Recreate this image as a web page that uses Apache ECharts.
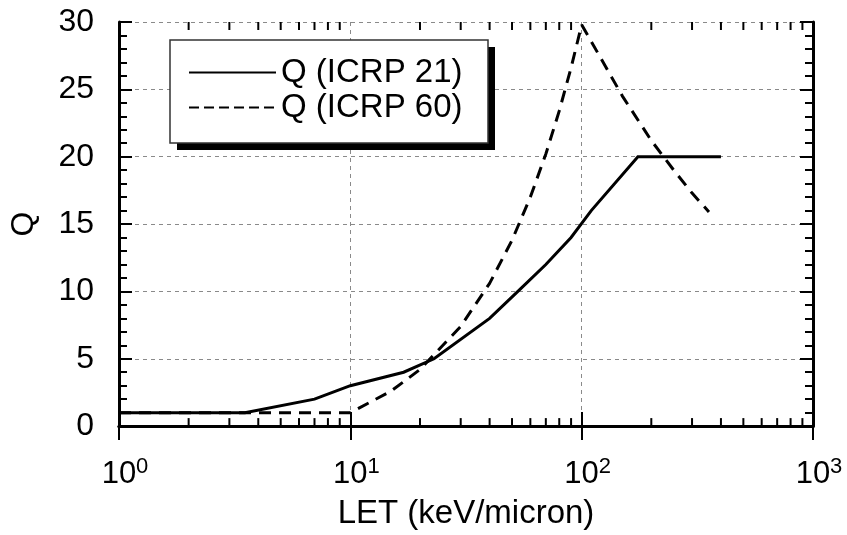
<!DOCTYPE html>
<html>
<head>
<meta charset="utf-8">
<script src="https://cdn.jsdelivr.net/npm/echarts@6/dist/echarts.min.js"></script>
<style>
  html, body { margin: 0; padding: 0; background: #fff; }
  #chart { width: 847px; height: 535px; }
</style>
</head>
<body>
<div id="chart"></div>
<script>
// Quality factor Q versus linear energy transfer
const letIcrp21 = [1, 3.5, 7, 10, 17, 23, 40, 53, 70, 90, 110, 175, 400];
const qIcrp21   = [1, 1,   2, 3,  4,  5,  8,  10, 12, 14, 16,  20,  20];

const letIcrp60 = [1, 10, 15, 20, 30, 40, 50, 60, 70, 80, 90, 100, 150, 200, 250, 300, 355];
const qIcrp60   = [1, 1,  2.6, 4.2, 7.4, 10.6, 13.8, 17, 20.2, 23.4, 26.6, 29.8, 24.5, 21.2, 19, 17.3, 15.9];

const seriesNames = ['Q (ICRP 21)', 'Q (ICRP 60)'];
const xDecades = [1, 10, 100, 1000];
const xExponents = ['0', '1', '2', '3'];
const xMinorTicks = [2, 3, 4, 5, 6, 7, 8, 9, 20, 30, 40, 50, 60, 70, 80, 90, 200, 300, 400, 500, 600, 700, 800, 900];
const yMin = 0, yMax = 30, yStep = 5;

const FONT = '"Liberation Sans", Arial, Helvetica, sans-serif';

const pairs = (xs, ys) => xs.map((x, i) => [x, ys[i]]);

const axisLine = { show: true, lineStyle: { color: '#000', width: 3 } };
const gridLine = { show: true, lineStyle: { color: '#8a8a8a', width: 1, type: [4, 4] } };

const chart = echarts.init(document.getElementById('chart'), null, { renderer: 'canvas' });

const xAxisBase = {
  type: 'log', logBase: 10, min: xDecades[0], max: xDecades[xDecades.length - 1],
  axisLine: axisLine,
  axisTick: { show: true, inside: true, length: 14, lineStyle: { color: '#000', width: 2 } },
  minorTick: { show: false }
};
const yAxisBase = {
  type: 'value', min: yMin, max: yMax, interval: yStep,
  axisLine: axisLine,
  axisTick: { show: true, inside: true, length: 13, lineStyle: { color: '#000', width: 2 } },
  minorTick: { show: true, splitNumber: 5, length: 8, lineStyle: { color: '#000', width: 2 } }
};

// legend frame with a solid drop shadow
const box = { x: 170, y: 40, w: 318, h: 103, shadow: 7 };

chart.setOption({
  animation: false,
  backgroundColor: '#fff',
  grid: { left: 117, right: 34, top: 22, bottom: 106, containLabel: false },
  graphic: [
    {
      type: 'rect', z: 10, silent: true,
      shape: { x: box.x + box.shadow, y: box.y + box.shadow, width: box.w, height: box.h },
      style: { fill: '#000' }
    },
    {
      type: 'rect', z: 11, silent: true,
      shape: { x: box.x, y: box.y, width: box.w, height: box.h },
      style: { fill: '#fff', stroke: '#333', lineWidth: 1.5 }
    }
  ],
  legend: {
    data: [
      { name: seriesNames[0] },
      { name: seriesNames[1], lineStyle: { type: [10, 5] } }
    ],
    orient: 'vertical',
    left: 188, top: 55,
    padding: 0,
    itemGap: 0,
    itemWidth: 87, itemHeight: 14,
    z: 20,
    backgroundColor: 'transparent', borderWidth: 0,
    itemStyle: { opacity: 0 },
    textStyle: { color: '#000', fontSize: 33, lineHeight: 35, fontFamily: FONT },
    selectedMode: false
  },
  xAxis: [
    Object.assign({}, xAxisBase, {
      position: 'bottom',
      name: 'LET (keV/micron)', nameLocation: 'middle', nameGap: 55,
      nameTextStyle: { color: '#000', fontSize: 33, fontFamily: FONT },
      splitLine: gridLine,
      axisLabel: {
        show: true, margin: 30, showMinLabel: true, showMaxLabel: true,
        formatter: function (v) {
          const i = xDecades.indexOf(Math.round(v));
          return '{b|10}{s|' + (i >= 0 ? xExponents[i] : '') + '}';
        },
        rich: {
          b: { fontSize: 31, fontFamily: FONT, color: '#000', padding: [0, 0, 0, 12], lineHeight: 34, verticalAlign: 'bottom' },
          s: { fontSize: 22, fontFamily: FONT, color: '#000', lineHeight: 34, verticalAlign: 'top', padding: [0, 0, 14, 0] }
        }
      }
    }),
    Object.assign({}, xAxisBase, {
      position: 'top',
      splitLine: { show: false },
      axisLabel: { show: false }
    })
  ],
  yAxis: [
    Object.assign({}, yAxisBase, {
      position: 'left',
      name: 'Q', nameLocation: 'middle', nameGap: 79, nameRotate: 90,
      nameTextStyle: { color: '#000', fontSize: 32, fontFamily: FONT },
      splitLine: gridLine,
      axisLabel: { show: true, margin: 25, color: '#000', fontSize: 32, fontFamily: FONT }
    }),
    Object.assign({}, yAxisBase, {
      position: 'right',
      splitLine: { show: false },
      axisLabel: { show: false }
    })
  ],
  series: [
    {
      name: seriesNames[0], type: 'line', xAxisIndex: 0, yAxisIndex: 0,
      data: pairs(letIcrp21, qIcrp21),
      symbol: 'none', smooth: false, z: 3,
      lineStyle: { color: '#000', width: 3, type: 'solid', cap: 'butt', join: 'miter' },
      itemStyle: { color: '#000' }
    },
    {
      name: seriesNames[1], type: 'line', xAxisIndex: 0, yAxisIndex: 0,
      data: pairs(letIcrp60, qIcrp60),
      symbol: 'none', smooth: false, z: 3,
      lineStyle: { color: '#000', width: 3, type: [12, 8], cap: 'butt' },
      itemStyle: { color: '#000' }
    },
    {
      // minor ticks of the logarithmic LET axis, on the bottom and top frame edges
      name: 'minorTicks', type: 'custom', xAxisIndex: 0, yAxisIndex: 0,
      silent: true, z: 6, clip: false,
      data: xMinorTicks.map(v => [v, yMin]),
      renderItem: function (params, api) {
        const v = api.value(0);
        const bottom = api.coord([v, yMin]);
        const top = api.coord([v, yMax]);
        const style = { stroke: '#000', lineWidth: 2 };
        return {
          type: 'group',
          children: [
            { type: 'line', shape: { x1: bottom[0], y1: bottom[1], x2: bottom[0], y2: bottom[1] - 8 }, style: style },
            { type: 'line', shape: { x1: top[0], y1: top[1], x2: top[0], y2: top[1] + 8 }, style: style }
          ]
        };
      }
    }
  ]
});
</script>
</body>
</html>
